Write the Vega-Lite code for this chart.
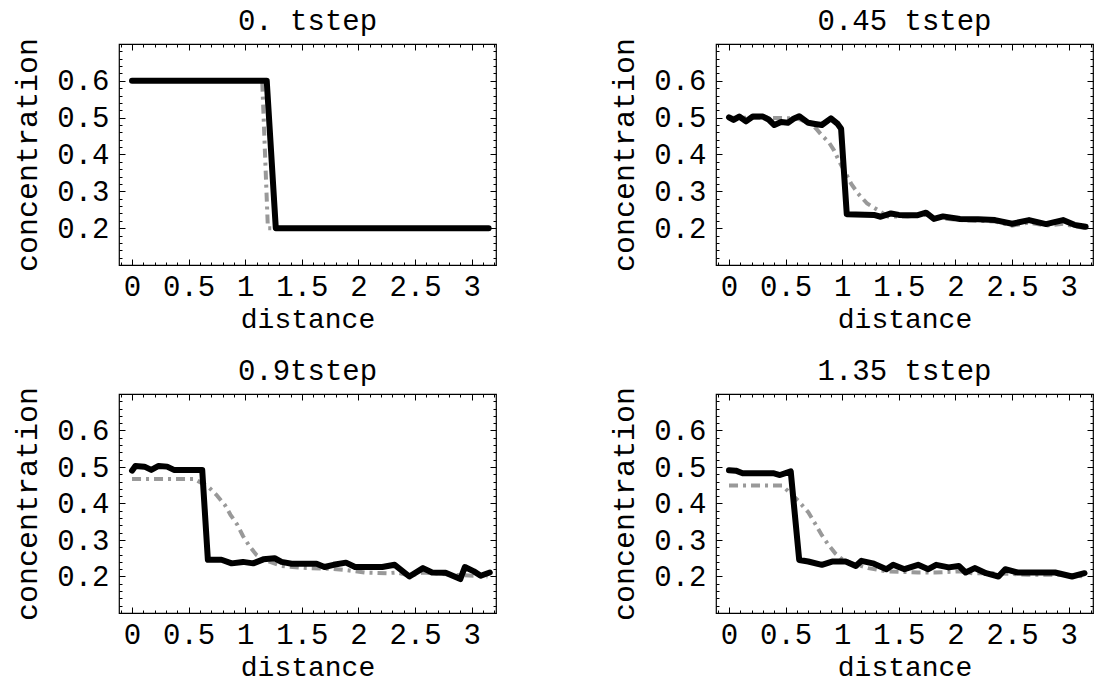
{
  "$schema": "https://vega.github.io/schema/vega-lite/v6.json",
  "background": "white",
  "padding": {"left": 12, "top": 6, "right": 0, "bottom": 0},
  "columns": 2,
  "bounds": "flush",
  "spacing": {"row": 129, "column": 220},
  "config": {
    "view": {"stroke": "#000", "strokeWidth": 1.2},
    "font": "Liberation Mono",
    "title": {"font": "Liberation Mono", "fontSize": 29, "fontWeight": "normal", "color": "#000", "offset": -6},
    "axis": {
      "domain": false, "grid": false, "tickColor": "#000", "tickWidth": 1,
      "labelFont": "Liberation Mono", "labelFontSize": 29, "labelColor": "#000",
      "titleFont": "Liberation Mono", "titleFontSize": 30, "titleFontWeight": "normal", "titleColor": "#000",
      "labelFlush": false, "labelOverlap": false
    },
    "axisX": {"labelPadding": 13, "titlePadding": 1, "titleFontSize": 28},
    "axisY": {"labelPadding": 16, "titlePadding": 14}
  },
  "data": {"values": [
    {"p":1,"s":"g","x":0,"y":0.6},{"p":1,"s":"g","x":1.15,"y":0.6},{"p":1,"s":"g","x":1.2,"y":0.2},{"p":1,"s":"g","x":3.15,"y":0.2},
    {"p":1,"s":"b","x":0,"y":0.6},{"p":1,"s":"b","x":1.19,"y":0.6},{"p":1,"s":"b","x":1.27,"y":0.2},{"p":1,"s":"b","x":3.15,"y":0.2},

    {"p":2,"s":"g","x":0,"y":0.5},{"p":2,"s":"g","x":0.3,"y":0.5},{"p":2,"s":"g","x":0.6,"y":0.498},{"p":2,"s":"g","x":0.72,"y":0.485},{"p":2,"s":"g","x":0.77,"y":0.47},{"p":2,"s":"g","x":0.82,"y":0.452},{"p":2,"s":"g","x":0.88,"y":0.434},{"p":2,"s":"g","x":0.93,"y":0.41},{"p":2,"s":"g","x":0.975,"y":0.38},{"p":2,"s":"g","x":1.04,"y":0.344},{"p":2,"s":"g","x":1.08,"y":0.32},{"p":2,"s":"g","x":1.14,"y":0.294},{"p":2,"s":"g","x":1.22,"y":0.267},{"p":2,"s":"g","x":1.31,"y":0.25},{"p":2,"s":"g","x":1.4,"y":0.232},{"p":2,"s":"g","x":1.58,"y":0.232},{"p":2,"s":"g","x":1.74,"y":0.236},{"p":2,"s":"g","x":1.89,"y":0.226},{"p":2,"s":"g","x":2.04,"y":0.222},{"p":2,"s":"g","x":2.35,"y":0.218},{"p":2,"s":"g","x":2.5,"y":0.207},{"p":2,"s":"g","x":2.65,"y":0.215},{"p":2,"s":"g","x":2.8,"y":0.207},{"p":2,"s":"g","x":2.95,"y":0.212},{"p":2,"s":"g","x":3.05,"y":0.205},{"p":2,"s":"g","x":3.15,"y":0.2},
    {"p":2,"s":"b","x":0,"y":0.501},{"p":2,"s":"b","x":0.04,"y":0.494},{"p":2,"s":"b","x":0.09,"y":0.503},{"p":2,"s":"b","x":0.15,"y":0.49},{"p":2,"s":"b","x":0.21,"y":0.503},{"p":2,"s":"b","x":0.3,"y":0.503},{"p":2,"s":"b","x":0.35,"y":0.495},{"p":2,"s":"b","x":0.4,"y":0.48},{"p":2,"s":"b","x":0.46,"y":0.488},{"p":2,"s":"b","x":0.52,"y":0.486},{"p":2,"s":"b","x":0.57,"y":0.497},{"p":2,"s":"b","x":0.62,"y":0.504},{"p":2,"s":"b","x":0.7,"y":0.486},{"p":2,"s":"b","x":0.76,"y":0.483},{"p":2,"s":"b","x":0.82,"y":0.48},{"p":2,"s":"b","x":0.9,"y":0.498},{"p":2,"s":"b","x":0.96,"y":0.483},{"p":2,"s":"b","x":0.99,"y":0.47},{"p":2,"s":"b","x":1.04,"y":0.238},{"p":2,"s":"b","x":1.28,"y":0.236},{"p":2,"s":"b","x":1.34,"y":0.231},{"p":2,"s":"b","x":1.43,"y":0.24},{"p":2,"s":"b","x":1.5,"y":0.236},{"p":2,"s":"b","x":1.58,"y":0.235},{"p":2,"s":"b","x":1.66,"y":0.235},{"p":2,"s":"b","x":1.74,"y":0.242},{"p":2,"s":"b","x":1.81,"y":0.225},{"p":2,"s":"b","x":1.89,"y":0.232},{"p":2,"s":"b","x":2.04,"y":0.225},{"p":2,"s":"b","x":2.2,"y":0.224},{"p":2,"s":"b","x":2.35,"y":0.222},{"p":2,"s":"b","x":2.5,"y":0.212},{"p":2,"s":"b","x":2.65,"y":0.222},{"p":2,"s":"b","x":2.8,"y":0.211},{"p":2,"s":"b","x":2.95,"y":0.222},{"p":2,"s":"b","x":3.05,"y":0.209},{"p":2,"s":"b","x":3.15,"y":0.204},

    {"p":3,"s":"g","x":0,"y":0.467},{"p":3,"s":"g","x":0.55,"y":0.467},{"p":3,"s":"g","x":0.58,"y":0.462},{"p":3,"s":"g","x":0.67,"y":0.447},{"p":3,"s":"g","x":0.745,"y":0.424},{"p":3,"s":"g","x":0.82,"y":0.396},{"p":3,"s":"g","x":0.87,"y":0.369},{"p":3,"s":"g","x":0.93,"y":0.342},{"p":3,"s":"g","x":0.98,"y":0.311},{"p":3,"s":"g","x":1.04,"y":0.282},{"p":3,"s":"g","x":1.1,"y":0.259},{"p":3,"s":"g","x":1.16,"y":0.247},{"p":3,"s":"g","x":1.32,"y":0.229},{"p":3,"s":"g","x":1.54,"y":0.223},{"p":3,"s":"g","x":1.75,"y":0.221},{"p":3,"s":"g","x":1.88,"y":0.218},{"p":3,"s":"g","x":2.06,"y":0.211},{"p":3,"s":"g","x":2.25,"y":0.209},{"p":3,"s":"g","x":2.34,"y":0.211},{"p":3,"s":"g","x":2.45,"y":0.202},{"p":3,"s":"g","x":2.57,"y":0.211},{"p":3,"s":"g","x":2.83,"y":0.205},{"p":3,"s":"g","x":3.14,"y":0.2},
    {"p":3,"s":"b","x":0,"y":0.49},{"p":3,"s":"b","x":0.03,"y":0.503},{"p":3,"s":"b","x":0.11,"y":0.501},{"p":3,"s":"b","x":0.17,"y":0.492},{"p":3,"s":"b","x":0.235,"y":0.503},{"p":3,"s":"b","x":0.31,"y":0.501},{"p":3,"s":"b","x":0.37,"y":0.492},{"p":3,"s":"b","x":0.62,"y":0.492},{"p":3,"s":"b","x":0.67,"y":0.246},{"p":3,"s":"b","x":0.79,"y":0.246},{"p":3,"s":"b","x":0.88,"y":0.236},{"p":3,"s":"b","x":0.98,"y":0.24},{"p":3,"s":"b","x":1.07,"y":0.236},{"p":3,"s":"b","x":1.16,"y":0.247},{"p":3,"s":"b","x":1.26,"y":0.25},{"p":3,"s":"b","x":1.32,"y":0.24},{"p":3,"s":"b","x":1.41,"y":0.235},{"p":3,"s":"b","x":1.63,"y":0.235},{"p":3,"s":"b","x":1.7,"y":0.226},{"p":3,"s":"b","x":1.78,"y":0.232},{"p":3,"s":"b","x":1.89,"y":0.238},{"p":3,"s":"b","x":1.97,"y":0.226},{"p":3,"s":"b","x":2.21,"y":0.226},{"p":3,"s":"b","x":2.32,"y":0.232},{"p":3,"s":"b","x":2.45,"y":0.2},{"p":3,"s":"b","x":2.57,"y":0.223},{"p":3,"s":"b","x":2.65,"y":0.211},{"p":3,"s":"b","x":2.77,"y":0.21},{"p":3,"s":"b","x":2.9,"y":0.193},{"p":3,"s":"b","x":2.94,"y":0.226},{"p":3,"s":"b","x":3.02,"y":0.214},{"p":3,"s":"b","x":3.08,"y":0.202},{"p":3,"s":"b","x":3.16,"y":0.211},

    {"p":4,"s":"g","x":0,"y":0.449},{"p":4,"s":"g","x":0.47,"y":0.449},{"p":4,"s":"g","x":0.61,"y":0.408},{"p":4,"s":"g","x":0.7,"y":0.376},{"p":4,"s":"g","x":0.76,"y":0.345},{"p":4,"s":"g","x":0.82,"y":0.313},{"p":4,"s":"g","x":0.88,"y":0.286},{"p":4,"s":"g","x":0.94,"y":0.263},{"p":4,"s":"g","x":1.0,"y":0.247},{"p":4,"s":"g","x":1.09,"y":0.236},{"p":4,"s":"g","x":1.23,"y":0.223},{"p":4,"s":"g","x":1.39,"y":0.214},{"p":4,"s":"g","x":1.67,"y":0.211},{"p":4,"s":"g","x":1.82,"y":0.211},{"p":4,"s":"g","x":2.03,"y":0.214},{"p":4,"s":"g","x":2.15,"y":0.209},{"p":4,"s":"g","x":2.33,"y":0.209},{"p":4,"s":"g","x":2.64,"y":0.205},{"p":4,"s":"g","x":2.94,"y":0.205},{"p":4,"s":"g","x":3.14,"y":0.2},
    {"p":4,"s":"b","x":0,"y":0.491},{"p":4,"s":"b","x":0.06,"y":0.49},{"p":4,"s":"b","x":0.12,"y":0.483},{"p":4,"s":"b","x":0.39,"y":0.483},{"p":4,"s":"b","x":0.45,"y":0.478},{"p":4,"s":"b","x":0.545,"y":0.488},{"p":4,"s":"b","x":0.62,"y":0.245},{"p":4,"s":"b","x":0.7,"y":0.241},{"p":4,"s":"b","x":0.82,"y":0.232},{"p":4,"s":"b","x":0.91,"y":0.241},{"p":4,"s":"b","x":1.03,"y":0.241},{"p":4,"s":"b","x":1.12,"y":0.229},{"p":4,"s":"b","x":1.17,"y":0.243},{"p":4,"s":"b","x":1.27,"y":0.236},{"p":4,"s":"b","x":1.39,"y":0.22},{"p":4,"s":"b","x":1.45,"y":0.232},{"p":4,"s":"b","x":1.55,"y":0.22},{"p":4,"s":"b","x":1.67,"y":0.232},{"p":4,"s":"b","x":1.76,"y":0.22},{"p":4,"s":"b","x":1.83,"y":0.232},{"p":4,"s":"b","x":1.94,"y":0.225},{"p":4,"s":"b","x":2.03,"y":0.229},{"p":4,"s":"b","x":2.09,"y":0.211},{"p":4,"s":"b","x":2.17,"y":0.223},{"p":4,"s":"b","x":2.27,"y":0.209},{"p":4,"s":"b","x":2.38,"y":0.2},{"p":4,"s":"b","x":2.44,"y":0.22},{"p":4,"s":"b","x":2.55,"y":0.211},{"p":4,"s":"b","x":2.7,"y":0.211},{"p":4,"s":"b","x":2.88,"y":0.211},{"p":4,"s":"b","x":3.03,"y":0.2},{"p":4,"s":"b","x":3.14,"y":0.209}
  ]},
  "concat": [
    {
      "title": "0. tstep", "width": 377, "height": 221,
      "transform": [{"filter": "datum.p == 1"}],
      "resolve": {"axis": {"x": "independent", "y": "independent"}},
      "layer": [
        {"transform": [{"filter": "datum.s == 'g'"}], "mark": {"type": "line", "color": "#999999", "strokeWidth": 4, "strokeDash": [9, 5, 3, 5]},
         "encoding": {
          "x": {"field": "x", "type": "quantitative", "scale": {"domain": [-0.115, 3.215], "nice": false, "zero": false}, "axis": {"orient": "bottom", "title": "distance", "values": [-0.1,0,0.1,0.2,0.3,0.4,0.5,0.6,0.7,0.8,0.9,1,1.1,1.2,1.3,1.4,1.5,1.6,1.7,1.8,1.9,2,2.1,2.2,2.3,2.4,2.5,2.6,2.7,2.8,2.9,3,3.1,3.2], "labelExpr": "abs(datum.value*2 - round(datum.value*2)) < 0.001 && datum.value > -0.05 ? '' + datum.value : ''", "tickSize": {"condition": {"test": "abs(datum.value*2 - round(datum.value*2)) < 0.001", "value": -6}, "value": -3}}},
          "y": {"field": "y", "type": "quantitative", "scale": {"domain": [0.1, 0.7], "nice": false, "zero": false}, "axis": {"orient": "left", "title": "concentration", "values": [0.1,0.12,0.14,0.16,0.18,0.2,0.22,0.24,0.26,0.28,0.3,0.32,0.34,0.36,0.38,0.4,0.42,0.44,0.46,0.48,0.5,0.52,0.54,0.56,0.58,0.6,0.62,0.64,0.66,0.68,0.7], "labelExpr": "abs(datum.value*10 - round(datum.value*10)) < 0.001 && datum.value > 0.15 && datum.value < 0.65 ? format(datum.value, '.1f') : ''", "tickSize": {"condition": {"test": "abs(datum.value*10 - round(datum.value*10)) < 0.001", "value": -6}, "value": -3}}}
         }},
        {"transform": [{"filter": "datum.s == 'b'"}], "mark": {"type": "line", "color": "#000000", "strokeWidth": 6, "strokeCap": "round", "strokeJoin": "round"},
         "encoding": {
          "x": {"field": "x", "type": "quantitative", "scale": {"domain": [-0.115, 3.215], "nice": false, "zero": false}, "axis": {"orient": "top", "title": null, "labels": false, "values": [-0.1,0,0.1,0.2,0.3,0.4,0.5,0.6,0.7,0.8,0.9,1,1.1,1.2,1.3,1.4,1.5,1.6,1.7,1.8,1.9,2,2.1,2.2,2.3,2.4,2.5,2.6,2.7,2.8,2.9,3,3.1,3.2], "tickSize": {"condition": {"test": "abs(datum.value*2 - round(datum.value*2)) < 0.001", "value": -6}, "value": -3}}},
          "y": {"field": "y", "type": "quantitative", "scale": {"domain": [0.1, 0.7], "nice": false, "zero": false}, "axis": {"orient": "right", "title": null, "labels": false, "values": [0.1,0.12,0.14,0.16,0.18,0.2,0.22,0.24,0.26,0.28,0.3,0.32,0.34,0.36,0.38,0.4,0.42,0.44,0.46,0.48,0.5,0.52,0.54,0.56,0.58,0.6,0.62,0.64,0.66,0.68,0.7], "tickSize": {"condition": {"test": "abs(datum.value*10 - round(datum.value*10)) < 0.001", "value": -6}, "value": -3}}}
         }}
      ]
    },
    {
      "title": "0.45 tstep", "width": 377, "height": 221,
      "transform": [{"filter": "datum.p == 2"}],
      "resolve": {"axis": {"x": "independent", "y": "independent"}},
      "layer": [
        {"transform": [{"filter": "datum.s == 'g'"}], "mark": {"type": "line", "color": "#999999", "strokeWidth": 4, "strokeDash": [9, 5, 3, 5]},
         "encoding": {
          "x": {"field": "x", "type": "quantitative", "scale": {"domain": [-0.115, 3.215], "nice": false, "zero": false}, "axis": {"orient": "bottom", "title": "distance", "values": [-0.1,0,0.1,0.2,0.3,0.4,0.5,0.6,0.7,0.8,0.9,1,1.1,1.2,1.3,1.4,1.5,1.6,1.7,1.8,1.9,2,2.1,2.2,2.3,2.4,2.5,2.6,2.7,2.8,2.9,3,3.1,3.2], "labelExpr": "abs(datum.value*2 - round(datum.value*2)) < 0.001 && datum.value > -0.05 ? '' + datum.value : ''", "tickSize": {"condition": {"test": "abs(datum.value*2 - round(datum.value*2)) < 0.001", "value": -6}, "value": -3}}},
          "y": {"field": "y", "type": "quantitative", "scale": {"domain": [0.1, 0.7], "nice": false, "zero": false}, "axis": {"orient": "left", "title": "concentration", "values": [0.1,0.12,0.14,0.16,0.18,0.2,0.22,0.24,0.26,0.28,0.3,0.32,0.34,0.36,0.38,0.4,0.42,0.44,0.46,0.48,0.5,0.52,0.54,0.56,0.58,0.6,0.62,0.64,0.66,0.68,0.7], "labelExpr": "abs(datum.value*10 - round(datum.value*10)) < 0.001 && datum.value > 0.15 && datum.value < 0.65 ? format(datum.value, '.1f') : ''", "tickSize": {"condition": {"test": "abs(datum.value*10 - round(datum.value*10)) < 0.001", "value": -6}, "value": -3}}}
         }},
        {"transform": [{"filter": "datum.s == 'b'"}], "mark": {"type": "line", "color": "#000000", "strokeWidth": 6, "strokeCap": "round", "strokeJoin": "round"},
         "encoding": {
          "x": {"field": "x", "type": "quantitative", "scale": {"domain": [-0.115, 3.215], "nice": false, "zero": false}, "axis": {"orient": "top", "title": null, "labels": false, "values": [-0.1,0,0.1,0.2,0.3,0.4,0.5,0.6,0.7,0.8,0.9,1,1.1,1.2,1.3,1.4,1.5,1.6,1.7,1.8,1.9,2,2.1,2.2,2.3,2.4,2.5,2.6,2.7,2.8,2.9,3,3.1,3.2], "tickSize": {"condition": {"test": "abs(datum.value*2 - round(datum.value*2)) < 0.001", "value": -6}, "value": -3}}},
          "y": {"field": "y", "type": "quantitative", "scale": {"domain": [0.1, 0.7], "nice": false, "zero": false}, "axis": {"orient": "right", "title": null, "labels": false, "values": [0.1,0.12,0.14,0.16,0.18,0.2,0.22,0.24,0.26,0.28,0.3,0.32,0.34,0.36,0.38,0.4,0.42,0.44,0.46,0.48,0.5,0.52,0.54,0.56,0.58,0.6,0.62,0.64,0.66,0.68,0.7], "tickSize": {"condition": {"test": "abs(datum.value*10 - round(datum.value*10)) < 0.001", "value": -6}, "value": -3}}}
         }}
      ]
    },
    {
      "title": "0.9tstep", "width": 377, "height": 219,
      "transform": [{"filter": "datum.p == 3"}],
      "resolve": {"axis": {"x": "independent", "y": "independent"}},
      "layer": [
        {"transform": [{"filter": "datum.s == 'g'"}], "mark": {"type": "line", "color": "#999999", "strokeWidth": 4, "strokeDash": [9, 5, 3, 5]},
         "encoding": {
          "x": {"field": "x", "type": "quantitative", "scale": {"domain": [-0.115, 3.215], "nice": false, "zero": false}, "axis": {"orient": "bottom", "title": "distance", "values": [-0.1,0,0.1,0.2,0.3,0.4,0.5,0.6,0.7,0.8,0.9,1,1.1,1.2,1.3,1.4,1.5,1.6,1.7,1.8,1.9,2,2.1,2.2,2.3,2.4,2.5,2.6,2.7,2.8,2.9,3,3.1,3.2], "labelExpr": "abs(datum.value*2 - round(datum.value*2)) < 0.001 && datum.value > -0.05 ? '' + datum.value : ''", "tickSize": {"condition": {"test": "abs(datum.value*2 - round(datum.value*2)) < 0.001", "value": -6}, "value": -3}}},
          "y": {"field": "y", "type": "quantitative", "scale": {"domain": [0.1, 0.7], "nice": false, "zero": false}, "axis": {"orient": "left", "title": "concentration", "values": [0.1,0.12,0.14,0.16,0.18,0.2,0.22,0.24,0.26,0.28,0.3,0.32,0.34,0.36,0.38,0.4,0.42,0.44,0.46,0.48,0.5,0.52,0.54,0.56,0.58,0.6,0.62,0.64,0.66,0.68,0.7], "labelExpr": "abs(datum.value*10 - round(datum.value*10)) < 0.001 && datum.value > 0.15 && datum.value < 0.65 ? format(datum.value, '.1f') : ''", "tickSize": {"condition": {"test": "abs(datum.value*10 - round(datum.value*10)) < 0.001", "value": -6}, "value": -3}}}
         }},
        {"transform": [{"filter": "datum.s == 'b'"}], "mark": {"type": "line", "color": "#000000", "strokeWidth": 6, "strokeCap": "round", "strokeJoin": "round"},
         "encoding": {
          "x": {"field": "x", "type": "quantitative", "scale": {"domain": [-0.115, 3.215], "nice": false, "zero": false}, "axis": {"orient": "top", "title": null, "labels": false, "values": [-0.1,0,0.1,0.2,0.3,0.4,0.5,0.6,0.7,0.8,0.9,1,1.1,1.2,1.3,1.4,1.5,1.6,1.7,1.8,1.9,2,2.1,2.2,2.3,2.4,2.5,2.6,2.7,2.8,2.9,3,3.1,3.2], "tickSize": {"condition": {"test": "abs(datum.value*2 - round(datum.value*2)) < 0.001", "value": -6}, "value": -3}}},
          "y": {"field": "y", "type": "quantitative", "scale": {"domain": [0.1, 0.7], "nice": false, "zero": false}, "axis": {"orient": "right", "title": null, "labels": false, "values": [0.1,0.12,0.14,0.16,0.18,0.2,0.22,0.24,0.26,0.28,0.3,0.32,0.34,0.36,0.38,0.4,0.42,0.44,0.46,0.48,0.5,0.52,0.54,0.56,0.58,0.6,0.62,0.64,0.66,0.68,0.7], "tickSize": {"condition": {"test": "abs(datum.value*10 - round(datum.value*10)) < 0.001", "value": -6}, "value": -3}}}
         }}
      ]
    },
    {
      "title": "1.35 tstep", "width": 377, "height": 219,
      "transform": [{"filter": "datum.p == 4"}],
      "resolve": {"axis": {"x": "independent", "y": "independent"}},
      "layer": [
        {"transform": [{"filter": "datum.s == 'g'"}], "mark": {"type": "line", "color": "#999999", "strokeWidth": 4, "strokeDash": [9, 5, 3, 5]},
         "encoding": {
          "x": {"field": "x", "type": "quantitative", "scale": {"domain": [-0.115, 3.215], "nice": false, "zero": false}, "axis": {"orient": "bottom", "title": "distance", "values": [-0.1,0,0.1,0.2,0.3,0.4,0.5,0.6,0.7,0.8,0.9,1,1.1,1.2,1.3,1.4,1.5,1.6,1.7,1.8,1.9,2,2.1,2.2,2.3,2.4,2.5,2.6,2.7,2.8,2.9,3,3.1,3.2], "labelExpr": "abs(datum.value*2 - round(datum.value*2)) < 0.001 && datum.value > -0.05 ? '' + datum.value : ''", "tickSize": {"condition": {"test": "abs(datum.value*2 - round(datum.value*2)) < 0.001", "value": -6}, "value": -3}}},
          "y": {"field": "y", "type": "quantitative", "scale": {"domain": [0.1, 0.7], "nice": false, "zero": false}, "axis": {"orient": "left", "title": "concentration", "values": [0.1,0.12,0.14,0.16,0.18,0.2,0.22,0.24,0.26,0.28,0.3,0.32,0.34,0.36,0.38,0.4,0.42,0.44,0.46,0.48,0.5,0.52,0.54,0.56,0.58,0.6,0.62,0.64,0.66,0.68,0.7], "labelExpr": "abs(datum.value*10 - round(datum.value*10)) < 0.001 && datum.value > 0.15 && datum.value < 0.65 ? format(datum.value, '.1f') : ''", "tickSize": {"condition": {"test": "abs(datum.value*10 - round(datum.value*10)) < 0.001", "value": -6}, "value": -3}}}
         }},
        {"transform": [{"filter": "datum.s == 'b'"}], "mark": {"type": "line", "color": "#000000", "strokeWidth": 6, "strokeCap": "round", "strokeJoin": "round"},
         "encoding": {
          "x": {"field": "x", "type": "quantitative", "scale": {"domain": [-0.115, 3.215], "nice": false, "zero": false}, "axis": {"orient": "top", "title": null, "labels": false, "values": [-0.1,0,0.1,0.2,0.3,0.4,0.5,0.6,0.7,0.8,0.9,1,1.1,1.2,1.3,1.4,1.5,1.6,1.7,1.8,1.9,2,2.1,2.2,2.3,2.4,2.5,2.6,2.7,2.8,2.9,3,3.1,3.2], "tickSize": {"condition": {"test": "abs(datum.value*2 - round(datum.value*2)) < 0.001", "value": -6}, "value": -3}}},
          "y": {"field": "y", "type": "quantitative", "scale": {"domain": [0.1, 0.7], "nice": false, "zero": false}, "axis": {"orient": "right", "title": null, "labels": false, "values": [0.1,0.12,0.14,0.16,0.18,0.2,0.22,0.24,0.26,0.28,0.3,0.32,0.34,0.36,0.38,0.4,0.42,0.44,0.46,0.48,0.5,0.52,0.54,0.56,0.58,0.6,0.62,0.64,0.66,0.68,0.7], "tickSize": {"condition": {"test": "abs(datum.value*10 - round(datum.value*10)) < 0.001", "value": -6}, "value": -3}}}
         }}
      ]
    }
  ]
}
